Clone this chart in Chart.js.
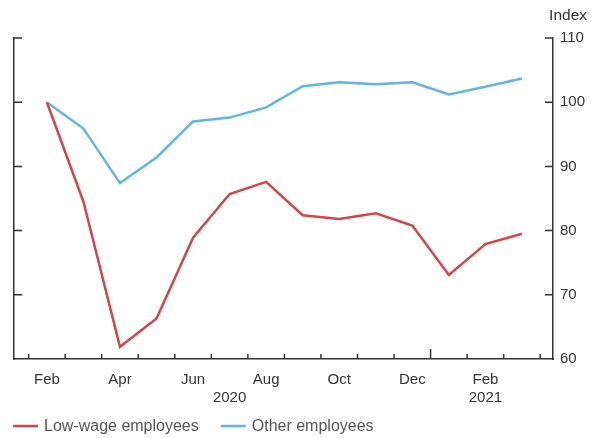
<!DOCTYPE html>
<html>
<head>
<meta charset="utf-8">
<title>Low-wage vs other employees</title>
<script src="https://cdn.jsdelivr.net/npm/chart.js@4/dist/chart.umd.min.js"></script>
<style>
  body { margin: 0; background: #fff; }
  canvas { display: block; }
</style>
</head>
<body>
<canvas id="myChart" width="592" height="438"></canvas>
<script>
// data, Feb 2020 - Mar 2021
const months = ["Feb", "Mar", "Apr", "May", "Jun", "Jul", "Aug", "Sep", "Oct", "Nov", "Dec", "Jan", "Feb", "Mar"];
const monthLabelAt = [0, 2, 4, 6, 8, 10, 12];
const yearLabels = ["2020", "2021"];
const yearLabelAt = [5, 12];
const lowWage = [100, 84.5, 61.9, 66.3, 78.9, 85.7, 87.6, 82.4, 81.8, 82.7, 80.8, 73.1, 77.9, 79.5];
const otherEmp = [100, 95.9, 87.4, 91.4, 97.0, 97.6, 99.2, 102.5, 103.1, 102.8, 103.1, 101.2, 102.4, 103.7];
const yTicks = [60, 70, 80, 90, 100, 110];

const axisColor = "#333";
Chart.defaults.font.family = '"Liberation Sans", Arial, sans-serif';

// inward tick marks on all three axes
const innerTicks = {
  id: "innerTicks",
  afterDraw(chart) {
    const ctx = chart.ctx;
    const x = chart.scales.x, y = chart.scales.y;
    const area = chart.chartArea;
    ctx.save();
    ctx.strokeStyle = axisColor;
    ctx.lineWidth = 1.5;
    ctx.beginPath();
    yTicks.forEach(function (v) {
      if (v === 60) return;
      const py = y.getPixelForValue(v);
      ctx.moveTo(area.left, py); ctx.lineTo(area.left + 8, py);
      ctx.moveTo(area.right - 8, py); ctx.lineTo(area.right, py);
    });
    for (let i = 0; i <= months.length; i++) {
      const px = x.getPixelForValue(i - 0.5);
      const len = months[i] === "Jan" ? 10 : 5;
      ctx.moveTo(px, area.bottom); ctx.lineTo(px, area.bottom - len);
    }
    ctx.stroke();
    ctx.restore();
  }
};

// legend drawn as short lines under the chart
const lineLegend = {
  id: "lineLegend",
  afterDraw(chart) {
    const ctx = chart.ctx;
    const y = 426;
    let x = 13;
    ctx.save();
    ctx.font = '16px "Liberation Sans", Arial, sans-serif';
    ctx.textBaseline = "middle";
    chart.data.datasets.forEach(function (ds) {
      ctx.strokeStyle = ds.borderColor;
      ctx.lineWidth = 2.5;
      ctx.beginPath();
      ctx.moveTo(x, y); ctx.lineTo(x + 25, y);
      ctx.stroke();
      ctx.fillStyle = "#555";
      ctx.fillText(ds.label, x + 31, y + 1);
      x += 31 + ctx.measureText(ds.label).width + 22;
    });
    ctx.restore();
  }
};

const toPoints = (arr) => arr.map((v, i) => ({ x: i, y: v }));

const config = {
  type: "line",
  data: {
    datasets: [
      {
        label: "Low-wage employees",
        data: toPoints(lowWage),
        borderColor: "rgb(209, 70, 73)",
        backgroundColor: "rgb(209, 70, 73)",
        borderWidth: 2.5,
        pointRadius: 0,
        tension: 0,
        xAxisID: "x",
        yAxisID: "y",
      },
      {
        label: "Other employees",
        data: toPoints(otherEmp),
        borderColor: "rgb(96, 182, 224)",
        backgroundColor: "rgb(96, 182, 224)",
        borderWidth: 2.5,
        pointRadius: 0,
        tension: 0,
        xAxisID: "x",
        yAxisID: "y",
      },
    ],
  },
  options: {
    responsive: false,
    animation: false,
    layout: { padding: { left: 0, right: 5, top: 0, bottom: 0 } },
    scales: {
      x: {
        type: "linear",
        min: -0.9,
        max: 13.85,
        grid: { display: false, drawTicks: false },
        border: { display: true, color: axisColor, width: 1.5 },
        afterBuildTicks: function (scale) {
          const vals = monthLabelAt.concat(yearLabelAt).filter((v, i, a) => a.indexOf(v) === i).sort((a, b) => a - b);
          scale.ticks = vals.map((v) => ({ value: v }));
        },
        ticks: {
          autoSkip: false,
          maxRotation: 0,
          padding: 12,
          color: axisColor,
          font: { size: 15 },
          callback: function (value) {
            const m = monthLabelAt.includes(value) ? months[value] : "";
            const yi = yearLabelAt.indexOf(value);
            return [m, yi >= 0 ? yearLabels[yi] : ""];
          },
        },
        afterFit: function (scale) { scale.height = 79; },
      },
      y: {
        position: "right",
        min: 60,
        max: 110,
        afterBuildTicks: function (scale) {
          scale.ticks = yTicks.map((v) => ({ value: v }));
        },
        grid: { display: false, drawTicks: false },
        border: { display: true, color: axisColor, width: 1.5 },
        ticks: { padding: 7, color: axisColor, font: { size: 15 } },
        afterFit: function (scale) { scale.width = 34; },
      },
      yl: {
        position: "left",
        min: 60,
        max: 110,
        grid: { display: false, drawTicks: false },
        border: { display: true, color: axisColor, width: 1.5 },
        ticks: { display: false },
        afterFit: function (scale) { scale.width = 14; },
      },
    },
    plugins: {
      legend: { display: false },
      tooltip: { enabled: false },
      title: {
        display: true,
        text: "Index",
        align: "end",
        color: axisColor,
        font: { size: 15.5, weight: "normal" },
        padding: { top: 6, bottom: 13.4 },
      },
    },
  },
  plugins: [innerTicks, lineLegend],
};

var myChart = new Chart(document.getElementById("myChart"), config);
</script>
</body>
</html>
